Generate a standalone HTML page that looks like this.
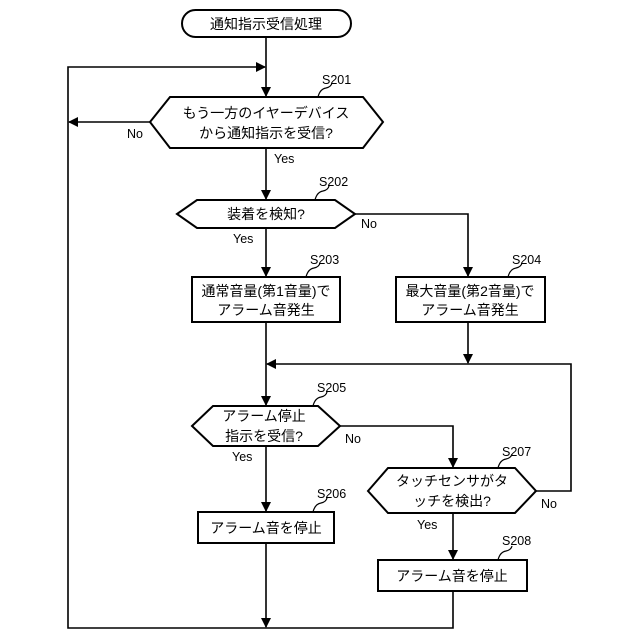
<!DOCTYPE html>
<html><head><meta charset="utf-8"><style>
body{margin:0;background:#fff}
svg{display:block}
text{font-family:"Liberation Sans","Noto Sans CJK JP",sans-serif;fill:#000}
.j{font-size:14px;text-anchor:middle}
.l{font-size:12.5px}
</style></head><body>
<svg width="640" height="640" viewBox="0 0 640 640" xmlns="http://www.w3.org/2000/svg">
<defs>
<marker id="a" markerWidth="10" markerHeight="10" refX="9" refY="5" orient="auto" markerUnits="userSpaceOnUse">
<path d="M0,0 L10,5 L0,10 z" fill="#000"/></marker>
</defs>
<g fill="none" stroke="#000" stroke-width="2">
<rect x="182" y="10" width="169" height="27" rx="13.5"/>
<polygon points="150,122 170,97 363,97 383,122 363,148 170,148"/>
<polygon points="177,214 197,200 335,200 355,214 335,228 197,228"/>
<rect x="192" y="277" width="148" height="45"/>
<rect x="396" y="277" width="149" height="45"/>
<polygon points="192,426 213,406 318,406 340,426 318,446 213,446"/>
<rect x="198" y="512" width="136" height="31"/>
<polygon points="368,491 388,468 515,468 536,491 515,513 388,513"/>
<rect x="378" y="560" width="149" height="31"/>
</g>
<g fill="none" stroke="#000" stroke-width="1.6">
<line x1="266" y1="37" x2="266" y2="96" marker-end="url(#a)"/>
<polyline points="266,628 68,628 68,67 265,67" marker-end="url(#a)"/>
<line x1="150" y1="122" x2="69" y2="122" marker-end="url(#a)"/>
<line x1="266" y1="148" x2="266" y2="199" marker-end="url(#a)"/>
<polyline points="355,214 468,214 468,276" marker-end="url(#a)"/>
<line x1="266" y1="228" x2="266" y2="276" marker-end="url(#a)"/>
<line x1="266" y1="322" x2="266" y2="405" marker-end="url(#a)"/>
<line x1="468" y1="322" x2="468" y2="363" marker-end="url(#a)"/>
<polyline points="536,491 571,491 571,364 267,364" marker-end="url(#a)"/>
<polyline points="340,426 453,426 453,467" marker-end="url(#a)"/>
<line x1="266" y1="446" x2="266" y2="511" marker-end="url(#a)"/>
<line x1="453" y1="513" x2="453" y2="559" marker-end="url(#a)"/>
<line x1="266" y1="543" x2="266" y2="627" marker-end="url(#a)"/>
<polyline points="453,591 453,628 266,628"/>
<path d="M318,97 q2,-8 8,-9 q5,-1 6,-5" stroke-width="1.2"/>
<path d="M315,200 q2,-8 8,-9 q5,-1 6,-5" stroke-width="1.2"/>
<path d="M306,277 q2,-8 8,-9 q5,-1 6,-5" stroke-width="1.2"/>
<path d="M508,277 q2,-8 8,-9 q5,-1 6,-5" stroke-width="1.2"/>
<path d="M313,406 q2,-8 8,-9 q5,-1 6,-5" stroke-width="1.2"/>
<path d="M313,512 q2,-8 8,-9 q5,-1 6,-5" stroke-width="1.2"/>
<path d="M498,468 q2,-8 8,-9 q5,-1 6,-5" stroke-width="1.2"/>
<path d="M498,560 q2,-8 8,-9 q5,-1 6,-5" stroke-width="1.2"/>
</g>
<text class="j" x="266" y="29">通知指示受信処理</text>
<text class="j" x="266" y="118">もう一方のイヤーデバイス</text>
<text class="j" x="266" y="138">から通知指示を受信?</text>
<text class="j" x="266" y="219">装着を検知?</text>
<text class="j" x="266" y="296">通常音量(第1音量)で</text>
<text class="j" x="266" y="315">アラーム音発生</text>
<text class="j" x="470" y="296">最大音量(第2音量)で</text>
<text class="j" x="470" y="315">アラーム音発生</text>
<text class="j" x="264" y="421">アラーム停止</text>
<text class="j" x="264" y="441">指示を受信?</text>
<text class="j" x="266" y="533">アラーム音を停止</text>
<text class="j" x="452" y="486">タッチセンサがタ</text>
<text class="j" x="452" y="506">ッチを検出?</text>
<text class="j" x="452" y="581">アラーム音を停止</text>
<text class="l" x="322" y="84">S201</text>
<text class="l" x="319" y="186">S202</text>
<text class="l" x="310" y="264">S203</text>
<text class="l" x="512" y="264">S204</text>
<text class="l" x="317" y="392">S205</text>
<text class="l" x="317" y="498">S206</text>
<text class="l" x="502" y="456">S207</text>
<text class="l" x="502" y="545">S208</text>
<text class="l" x="127" y="138">No</text>
<text class="l" x="274" y="163">Yes</text>
<text class="l" x="361" y="228">No</text>
<text class="l" x="233" y="243">Yes</text>
<text class="l" x="345" y="443">No</text>
<text class="l" x="232" y="461">Yes</text>
<text class="l" x="541" y="508">No</text>
<text class="l" x="417" y="529">Yes</text>
</svg>
</body></html>
